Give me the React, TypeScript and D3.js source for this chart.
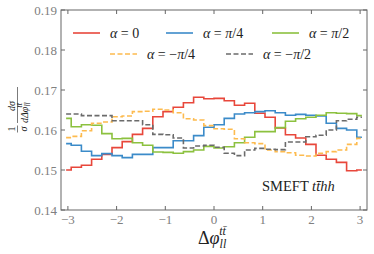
import React from 'react'
import * as d3 from 'd3'

// bin centres over [-pi, pi], 30 bins
const nBins = 30
const binCenters = d3.range(nBins).map(i => -Math.PI + (i + 0.5) * (2 * Math.PI / nBins))

const alpha0 = [0.1500, 0.1507, 0.1512, 0.1527, 0.1539, 0.1556, 0.1571, 0.1589, 0.1604, 0.1633, 0.1646, 0.1657, 0.1668, 0.1682, 0.1678, 0.1679, 0.1673, 0.1662, 0.1667, 0.1642, 0.1632, 0.1605, 0.1588, 0.1580, 0.1564, 0.1537, 0.1527, 0.1519, 0.1498, 0.1500]
const alphaPi4 = [0.1566, 0.1562, 0.1547, 0.1536, 0.1541, 0.1536, 0.1531, 0.1539, 0.1539, 0.1556, 0.1556, 0.1573, 0.1573, 0.1586, 0.1607, 0.1613, 0.1629, 0.1640, 0.1643, 0.1646, 0.1648, 0.1643, 0.1637, 0.1639, 0.1637, 0.1635, 0.1617, 0.1604, 0.1600, 0.1582]
const alphaPi2 = [0.1629, 0.1608, 0.1613, 0.1612, 0.1591, 0.1578, 0.1579, 0.1568, 0.1562, 0.1545, 0.1544, 0.1542, 0.1546, 0.1550, 0.1559, 0.1555, 0.1558, 0.1568, 0.1582, 0.1596, 0.1596, 0.1606, 0.1622, 0.1628, 0.1632, 0.1637, 0.1643, 0.1642, 0.1641, 0.1636]
const alphaMPi4 = [0.1581, 0.1584, 0.1598, 0.1617, 0.1620, 0.1633, 0.1635, 0.1646, 0.1647, 0.1652, 0.1650, 0.1643, 0.1628, 0.1625, 0.1611, 0.1603, 0.1602, 0.1578, 0.1568, 0.1566, 0.1550, 0.1546, 0.1543, 0.1537, 0.1535, 0.1542, 0.1546, 0.1550, 0.1564, 0.1579]
const alphaMPi2 = [0.1640, 0.1640, 0.1636, 0.1636, 0.1636, 0.1623, 0.1623, 0.1623, 0.1613, 0.1589, 0.1588, 0.1580, 0.1555, 0.1560, 0.1562, 0.1557, 0.1542, 0.1536, 0.1550, 0.1554, 0.1552, 0.1551, 0.1570, 0.1570, 0.1583, 0.1587, 0.1600, 0.1623, 0.1627, 0.1632]

const xTicks = [-3, -2, -1, 0, 1, 2, 3]
const yTicks = [0.14, 0.15, 0.16, 0.17, 0.18, 0.19]

// legend value = sign + (pi?) + rest
const series = [
  { sign: '', pi: false, rest: '0', values: alpha0, color: '#e8473b', dash: null },
  { sign: '', pi: true, rest: '/4', values: alphaPi4, color: '#3b8bc9', dash: null },
  { sign: '', pi: true, rest: '/2', values: alphaPi2, color: '#8cc13f', dash: null },
  { sign: '−', pi: true, rest: '/4', values: alphaMPi4, color: '#fdbb4f', dash: '5,2.5' },
  { sign: '−', pi: true, rest: '/2', values: alphaMPi2, color: '#6b6b6b', dash: '5,2.5' },
]

const W = 374
const H = 254
const margin = { left: 61, right: 7, top: 10, bottom: 44 }
const serif = '"Liberation Serif", "Times New Roman", serif'
const axisColor = '#666'
const labelColor = '#808080'
const ink = '#222'

export default function App() {
  const x = d3.scaleLinear().domain([-Math.PI, Math.PI]).range([margin.left, W - margin.right])
  const y = d3.scaleLinear().domain([0.14, 0.19]).range([H - margin.bottom, margin.top])
  const line = d3.line<number>()
    .x((d, i) => x(binCenters[i]))
    .y(d => y(d))
    .curve(d3.curveStep)

  const x0 = margin.left
  const x1 = W - margin.right
  const y0 = H - margin.bottom
  const y1 = margin.top
  const tl = 4

  const legendPos = [[73, 33], [166, 33], [272, 33], [110, 54], [226, 54]]

  return (
    <svg width={W} height={H} style={{ position: 'absolute', left: 0, top: 0, background: '#fff', fontFamily: serif }}>
      <g>
        {series.map((s, i) => (
          <path key={'s' + i} d={line(s.values) || ''} fill="none" stroke={s.color}
            strokeWidth={1.6} strokeDasharray={s.dash || undefined} />
        ))}
      </g>

      <rect x={x0} y={y1} width={x1 - x0} height={y0 - y1} fill="none" stroke={axisColor} strokeWidth={1} />

      {xTicks.map(t => (
        <g key={'x' + t}>
          <line x1={x(t)} x2={x(t)} y1={y0} y2={y0 - tl} stroke={axisColor} />
          <line x1={x(t)} x2={x(t)} y1={y1} y2={y1 + tl} stroke={axisColor} />
          <text x={x(t)} y={y0 + 14} textAnchor="middle" fontSize={13} fill={labelColor} style={{ fontFamily: serif }}>
            {t < 0 ? '−' + Math.abs(t) : String(t)}
          </text>
        </g>
      ))}
      {yTicks.map(t => (
        <g key={'y' + t}>
          <line x1={x0} x2={x0 + tl} y1={y(t)} y2={y(t)} stroke={axisColor} />
          <line x1={x1} x2={x1 - tl} y1={y(t)} y2={y(t)} stroke={axisColor} />
          <text x={x0 - 4} y={y(t) + 4.5} textAnchor="end" fontSize={13} fill={labelColor} style={{ fontFamily: serif }}>
            {t.toFixed(2)}
          </text>
        </g>
      ))}

      {series.map((s, i) => {
        const [lx, ly] = legendPos[i]
        return (
          <g key={'lg' + i}>
            <line x1={lx} x2={lx + 27} y1={ly} y2={ly} stroke={s.color} strokeWidth={1.6}
              strokeDasharray={s.dash || undefined} />
            <text x={lx + 37} y={ly + 4.5} fontSize={14} fill={ink} style={{ fontFamily: serif, whiteSpace: 'pre' }}>
              <tspan fontStyle="italic">α</tspan>
              <tspan>{' = ' + s.sign}</tspan>
              {s.pi ? <tspan fontStyle="italic">π</tspan> : null}
              <tspan>{s.rest}</tspan>
            </text>
          </g>
        )
      })}

      <text x={262} y={191} fontSize={14.5} fill={ink} style={{ fontFamily: serif }}>
        SMEFT <tspan fontStyle="italic">tt̄hh</tspan>
      </text>

      <text x={198} y={244} fontSize={18} fill={ink} style={{ fontFamily: serif }}>
        Δ<tspan fontStyle="italic">φ</tspan>
        <tspan fontSize={12} fontStyle="italic" dy={4}>ll</tspan>
        <tspan fontSize={12} fontStyle="italic" dx={-7} dy={-13}>tt̄</tspan>
      </text>

      <g transform="translate(18,110) rotate(-90)" fill={ink} style={{ fontFamily: serif }}>
        <text x={-19} y={-3.5} textAnchor="middle" fontSize={10}>1</text>
        <line x1={-22.5} x2={-15.5} y1={-0.5} y2={-0.5} stroke={ink} strokeWidth={0.6} />
        <text x={-19} y={8.5} textAnchor="middle" fontSize={10} fontStyle="italic">σ</text>
        <text x={4} y={-3.5} textAnchor="middle" fontSize={10} fontStyle="italic">dσ</text>
        <line x1={-13} x2={23} y1={-0.5} y2={-0.5} stroke={ink} strokeWidth={0.6} />
        <text x={-13} y={10} fontSize={10} fontStyle="italic">dΔφ
          <tspan fontSize={7.5} dy={2}>ll</tspan>
          <tspan fontSize={7.5} dx={-5} dy={-8}>tt̄</tspan>
        </text>
      </g>
    </svg>
  )
}
